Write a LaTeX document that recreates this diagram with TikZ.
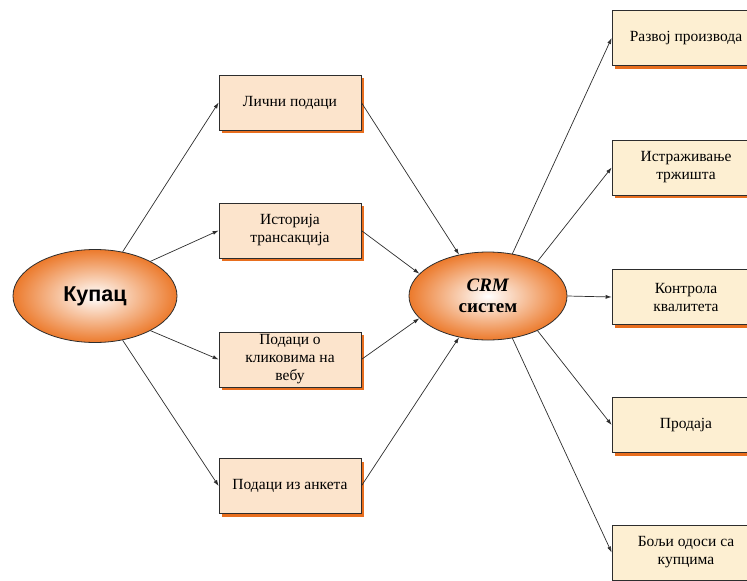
\documentclass[tikz,border=0pt]{standalone}
\usepackage{fontspec}
\setmainfont{Liberation Serif}[BoldFont={Liberation Serif Bold},ItalicFont={Liberation Serif Italic},BoldItalicFont={Liberation Serif Bold Italic}]
\newfontfamily\sansfont{Liberation Sans}
\usetikzlibrary{shapes.geometric,shadows,arrows.meta}
\definecolor{midfill}{RGB}{252,228,204}
\definecolor{rightfill}{RGB}{253,239,210}
\definecolor{shadoworange}{RGB}{232,110,30}
\definecolor{ellorange}{RGB}{236,122,44}
\definecolor{linegray}{RGB}{45,45,45}
\tikzset{
  ell/.style={ellipse, draw=linegray, line width=0.8pt, inner color=white, outer color=ellorange, minimum width=#1},
  box/.style={rectangle, draw=linegray, line width=0.7pt, fill=midfill, minimum width=142pt, minimum height=55pt, align=center,
    font=\fontsize{15.5}{18}\selectfont, inner sep=1pt,
    drop shadow={shadow xshift=3pt, shadow yshift=-3pt, fill=shadoworange, opacity=1}},
  rbox/.style={box, fill=rightfill, minimum width=148pt},
  arr/.style={draw=linegray, line width=0.7pt, -{Latex[length=6pt,width=4pt]}}
}
\begin{document}
\begin{tikzpicture}[x=1pt,y=-1pt]
\useasboundingbox (0,0) rectangle (747,581);
\clip (0,0) rectangle (747,581);
\node[ell=164pt, minimum height=93pt] (kup) at (95,296) {\sansfont\bfseries\fontsize{21.5}{23}\selectfont Купац};
\node[ell=158pt, minimum height=88pt, align=center, font=\bfseries\fontsize{19}{21}\selectfont] (crm) at (488,296) {\textit{CRM}\\систем};

\node[box] (m1) at (290,102.5) {Лични подаци};
\node[box] (m2) at (290,230.5) {Историја\\трансакција};
\node[box] (m3) at (290,359.5) {Подаци о\\кликовима на\\вебу};
\node[box] (m4) at (290,486) {Подаци из анкета};

\node[rbox] (r1) at (686,38) {Развој производа};
\node[rbox] (r2) at (686,167.5) {Истраживање\\тржишта};
\node[rbox] (r3) at (686,297) {Контрола\\квалитета};
\node[rbox] (r4) at (686,425) {Продаја};
\node[rbox] (r5) at (686,552.5) {Бољи одоси са\\купцима};

\draw[arr] (kup.58) -- (m1.west);
\draw[arr] (kup.32) -- (m2.west);
\draw[arr] (kup.-32) -- (m3.west);
\draw[arr] (kup.-58) -- (m4.west);

\draw[arr] (m1.east) -- (crm.125);
\draw[arr] (m2.east) -- (crm.162);
\draw[arr] (m3.east) -- (crm.198);
\draw[arr] (m4.east) -- (crm.235);

\draw[arr] (crm.60) -- (r1.west);
\draw[arr] (crm.35) -- (r2.west);
\draw[arr] (crm.0) -- (r3.west);
\draw[arr] (crm.-35) -- (r4.west);
\draw[arr] (crm.-60) -- (r5.west);
\end{tikzpicture}
\end{document}
